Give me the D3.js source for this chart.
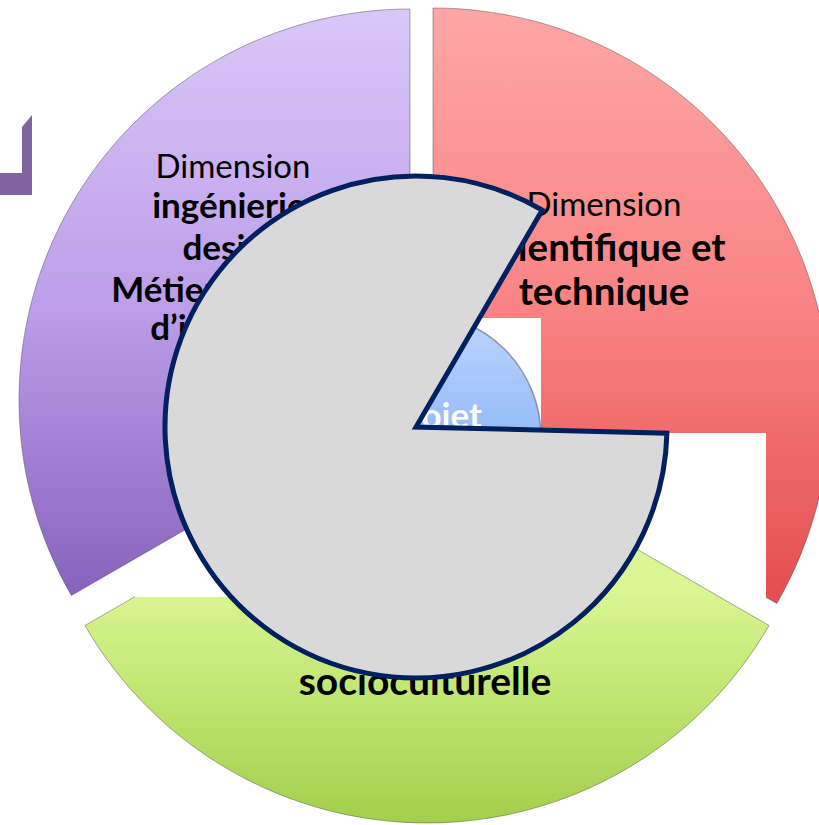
<!DOCTYPE html>
<html><head><meta charset="utf-8">
<script src="https://cdn.jsdelivr.net/npm/d3@7"></script>
<style>html,body{margin:0;padding:0;background:#fff;} svg{display:block}</style>
</head><body>
<script>
// ---- data ----
const segmentNames = ["Dimension scientifique et technique", "Dimension socioculturelle", "Dimension ingénierie design"];
const segmentShares = [1, 1, 1];
const redLines = ["Dimension", "scientifique et", "technique"];
const greenLines = ["Dimension", "socioculturelle"];
const purpleLines = ["Dimension", "ingénierie,", "design", "Métiers et lieux", "d’insertion"];
const centerLabel = ["Projet"];
const pieLabels = ["Part", "Reste"];
const pieValues = [83, 17];

// ---- layout ----
const W = 819, H = 825;
const svg = d3.select("body").append("svg").attr("width", W).attr("height", H);
const defs = svg.append("defs");
function lin(id, y1, y2, stops) {
  const g = defs.append("linearGradient").attr("id", id).attr("gradientUnits", "userSpaceOnUse")
    .attr("x1", 0).attr("x2", 0).attr("y1", y1).attr("y2", y2);
  stops.forEach(([o, c]) => g.append("stop").attr("offset", o).attr("stop-color", c));
}

const segLayout = [
  {cx: 433, cy: 405, r: 397, id: "gRed", y1: 10, y2: 605, stops: [[0, "#fea6a6"], [0.5, "#f98383"], [1, "#e34d4d"]]},
  {cx: 427, cy: 428, r: 395, id: "gGreen", y1: 590, y2: 823, stops: [[0, "#d9f792"], [1, "#a3cf4b"]]},
  {cx: 410, cy: 400, r: 391, id: "gPurple", y1: 10, y2: 600, stops: [[0, "#dac7f9"], [0.5, "#bc9ee9"], [1, "#8761bc"]]}
];
segLayout.forEach(L => lin(L.id, L.y1 - L.cy, L.y2 - L.cy, L.stops));
lin("gBlue", 312, 562, [[0, "#bcd6ff"], [1, "#6f9fef"]]);

const ringPie = d3.pie().sort(null).value(d => d).startAngle(0).endAngle(2 * Math.PI);
const ringArcs = ringPie(segmentShares);

// purple bracket at left
svg.append("path").attr("d", "M0,173H22V127L32,115V195H0Z").attr("fill", "#8064a2");

function drawSeg(i) {
  const L = segLayout[i];
  const arc = d3.arc().innerRadius(100).outerRadius(L.r);
  svg.append("g").attr("transform", `translate(${L.cx},${L.cy})`)
    .append("path").datum(ringArcs[i]).attr("d", arc)
    .attr("fill", `url(#${L.id})`).attr("stroke", "rgba(70,70,70,0.45)").attr("stroke-width", 1);
}
drawSeg(0); // red
svg.append("rect").attr("x", 541).attr("y", 433).attr("width", 225).attr("height", 167).attr("fill", "#fff");
drawSeg(1); // green
svg.append("rect").attr("x", 135).attr("y", 500).attr("width", 285).attr("height", 97).attr("fill", "#fff");
drawSeg(2); // purple

// center blue circle image with its white box
svg.append("rect").attr("x", 292).attr("y", 318).attr("width", 249).attr("height", 244).attr("fill", "#fff");
svg.append("circle").attr("cx", 417).attr("cy", 437).attr("r", 124)
  .attr("fill", "url(#gBlue)").attr("stroke", "rgba(90,100,120,0.6)").attr("stroke-width", 1.5);
svg.append("text").attr("x", 482).attr("y", 428).attr("text-anchor", "end")
  .attr("font-family", "Lato").attr("font-weight", "bold").attr("font-size", 35).attr("fill", "#fff")
  .text(centerLabel[0]);

// labels
function lines(arr, x, ys, sizes) {
  arr.forEach((t, i) => {
    svg.append("text").attr("x", x).attr("y", ys[i]).attr("text-anchor", "middle")
      .attr("font-family", "Lato").attr("font-weight", i === 0 ? "normal" : "bold")
      .attr("font-size", i === 0 ? sizes[0] : sizes[1]).attr("fill", "#000").text(t);
  });
}
lines(purpleLines, 233, [178, 218, 260, 302, 340], [33, 35]);
lines(redLines, 604, [216, 261, 305], [33, 38.5]);
lines(greenLines, 425, [650, 695], [33, 39]);

// grey pie overlay
const a0 = 91.4 * Math.PI / 180;
const greyPie = d3.pie().sort(null).value(d => d).startAngle(a0).endAngle(a0 + 2 * Math.PI)(pieValues);
const greyArc = d3.arc().innerRadius(0).outerRadius(251);
svg.append("g").attr("transform", "translate(416,427)")
  .selectAll("path").data(greyPie.slice(0, 1)).join("path")
  .attr("d", greyArc).attr("fill", "#d9d9d9").attr("stroke", "#002060")
  .attr("stroke-width", 5).attr("stroke-linejoin", "miter");
</script>
</body></html>
